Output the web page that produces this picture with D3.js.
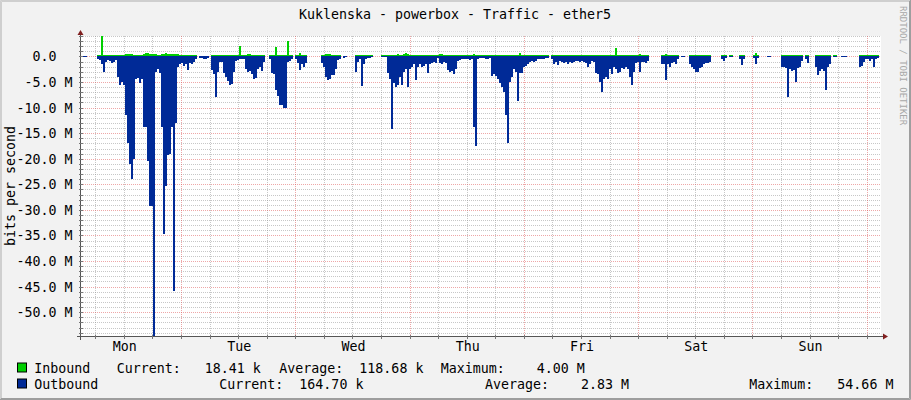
<!DOCTYPE html>
<html><head><meta charset="utf-8">
<script src="https://cdn.jsdelivr.net/npm/d3@7"></script>
<style>
body{margin:0;background:#F2F2F2}
svg{display:block}
text{font-family:"DejaVu Sans Mono",monospace;white-space:pre}
</style>
</head><body>
<svg id="chart" width="911" height="400"></svg>
<script>
// ---------- data ----------
const title = "Kuklenska - powerbox - Traffic - ether5";
const yAxisTitle = "bits per second";
const watermark = "RRDTOOL / TOBI OETIKER";
const dayLabels = ["Mon","Tue","Wed","Thu","Fri","Sat","Sun"];
const yTickValues = [0,-5,-10,-15,-20,-25,-30,-35,-40,-45,-50];           // Mbit/s
const yTickLabels = ["0.0  ","-5.0 M","-10.0 M","-15.0 M","-20.0 M","-25.0 M","-30.0 M","-35.0 M","-40.0 M","-45.0 M","-50.0 M"];
const yMin = -54.66, yMax = 4.00;                                          // Mbit/s
const startTime = Date.UTC(2024,0,1,3,0,0);                                // Monday 03:00
const spanHours = 168;
const sampleSeconds = 1512;

// inbound traffic, Mbit/s (one value per sample, null = no data)
const inbound = [
 null,0.05,0.05,null,null,null,null,null,0.3,0.3,4.0,0.3,0.2,0.2,0.2,0.2,0.3,0.3,0.3,0.3,
 0.3,0.3,0.4,0.4,0.4,0.4,0.3,0.3,0.3,0.3,0.3,0.5,0.6,0.6,0.5,0.5,0.5,0.4,0.3,0.3,
 0.5,0.5,0.6,0.5,0.5,0.4,0.4,0.4,0.4,0.3,0.3,0.3,0.3,0.3,0.3,0.2,0.2,0.2,null,0.05,
 0.05,0.05,0.05,0.05,null,0.3,0.3,0.3,0.2,0.2,0.2,0.3,0.3,0.3,0.3,0.3,0.2,0.2,0.2,2.1,
 0.3,0.2,0.3,0.4,0.4,0.3,0.3,0.3,0.3,0.3,0.3,0.2,null,null,0.2,0.3,0.3,1.9,0.3,0.3,
 0.3,0.3,0.3,3.1,0.3,0.2,null,0.2,0.3,0.6,0.3,0.3,0.2,null,null,null,null,null,null,null,
 0.3,0.3,0.4,0.4,0.4,0.3,0.3,0.3,0.3,0.2,null,0.05,0.05,null,null,null,null,0.2,0.2,0.2,
 0.2,0.2,0.2,0.2,0.2,0.2,null,null,null,null,0.3,0.3,0.2,0.3,0.3,0.3,0.3,0.3,0.4,0.3,
 0.3,0.4,0.6,0.5,0.3,0.3,0.3,0.3,0.3,0.3,0.3,0.3,0.3,0.3,0.3,0.3,0.3,0.3,0.2,0.5,
 0.5,0.3,0.3,0.3,0.3,0.3,0.3,0.3,0.2,0.2,0.2,0.2,0.2,0.2,0.2,0.2,0.5,0.3,0.2,0.2,
 0.2,0.2,0.2,0.2,0.2,0.3,0.3,0.3,0.3,0.3,0.3,0.3,0.3,0.3,0.3,0.3,0.3,0.3,0.3,0.7,
 0.3,0.3,0.3,0.3,0.3,0.3,0.3,0.3,0.2,0.2,0.2,0.2,0.2,0.2,null,0.3,0.3,0.3,0.3,0.3,
 0.3,0.2,0.2,0.2,0.2,0.2,0.2,0.2,0.2,0.3,0.3,0.3,0.3,0.3,0.3,0.3,0.3,0.3,0.3,0.3,
 0.3,0.3,0.3,0.3,0.3,0.3,0.3,1.7,0.3,0.3,0.3,0.3,0.3,0.3,0.3,0.3,0.3,0.3,0.3,0.5,
 0.3,0.3,0.3,0.3,null,null,null,null,null,null,0.3,0.3,0.5,0.3,0.3,0.3,0.3,0.3,0.3,null,
 0.05,0.05,null,null,0.3,0.3,0.3,0.3,0.3,0.3,0.3,0.3,0.3,0.2,0.2,null,null,null,null,null,
 0.2,0.2,0.2,null,0.2,0.2,null,null,null,0.2,0.2,0.2,null,null,null,null,0.3,0.6,0.3,null,
 null,null,null,0.05,0.05,null,null,null,null,null,0.3,0.3,0.3,0.3,0.3,0.3,0.3,0.3,0.3,0.3,
 0.3,null,0.2,0.2,null,null,null,0.3,0.3,0.3,0.3,0.3,0.3,0.3,0.3,null,0.2,0.2,null,null,
 0.05,0.05,0.05,null,null,null,null,null,null,0.3,0.3,0.3,0.3,0.3,0.3,0.3,0.3,0.3,0.2,null
];
// outbound traffic, Mbit/s (drawn below the zero line)
const outbound = [
 null,0.2,0.2,null,null,null,null,null,0.5,0.7,1.5,3.1,1.0,0.6,0.8,1.3,1.0,0.7,4.0,5.5,
 5.0,5.5,11.5,17,21,24,20,4.5,4.2,5.2,4.5,13.7,13.7,20.5,29.3,29.3,54.66,3.0,2.5,3.2,
 13.7,34.8,25.4,19.2,19,13.7,45.9,13,2.0,1.5,1.2,1.8,1.5,2.6,1.2,1.5,1.0,0.5,null,0.3,
 0.3,0.4,0.5,0.3,null,2.6,3.5,8.0,3.0,1.0,1.0,3.2,4.0,4.8,5.5,5.3,3.0,0.8,0.6,0.5,
 0.5,0.5,2.5,3.0,2.8,3.5,4.4,4.2,2.5,2.0,2.9,1.0,null,null,0.5,3.2,3.5,6.5,7.8,9.4,
 9.5,10,10,1.0,0.8,0.5,null,0.5,1.3,2.7,1.5,2.0,1.2,null,null,null,null,null,null,null,
 1.3,2.1,4.0,4.7,4.5,3.6,3.6,2.5,0.6,0.5,null,0.3,0.2,null,null,null,null,3.1,1.0,0.4,
 5.7,1.5,0.4,0.3,0.3,0.2,null,null,null,null,0.2,0.2,0.2,3.2,4.5,14.2,5.2,6.0,5.5,4.0,
 5.5,3.0,2.5,5.9,2.5,2.0,1.5,4.7,2.0,1.5,2.0,1.8,1.5,3.2,1.5,1.2,1.0,1.2,0.3,1.2,
 1.4,1.0,1.3,2.7,3.0,2.8,3.5,2.5,0.8,0.6,0.5,0.4,0.4,0.5,0.6,0.5,13.7,17.6,0.5,0.3,
 0.3,0.3,0.4,0.4,0.3,3.9,3.5,3.9,4.4,5.2,6.0,7.0,11.4,17.0,5.0,4.0,2.5,3.0,8.8,3.2,
 3.2,2.0,1.8,1.5,1.0,0.9,1.0,0.9,0.5,0.4,0.4,0.4,0.3,0.3,null,0.5,1.5,1.0,1.6,0.8,
 1.0,1.2,1.0,1.5,1.0,1.3,1.0,0.8,0.8,1.0,0.8,1.0,1.2,2.0,1.5,0.8,1.0,3.2,3.5,5.0,
 7.0,4.5,4.0,4.4,2.5,3.5,2.0,2.5,3.2,3.0,2.2,2.5,2.0,2.5,4.0,5.5,3.0,1.2,1.0,3.1,
 1.0,1.0,1.2,0.8,null,null,null,null,null,null,1.5,1.5,4.6,1.5,2.0,1.2,1.0,1.5,0.5,null,
 0.2,0.2,null,null,1.5,2.0,2.5,3.0,3.1,2.2,2.0,1.5,1.3,1.2,1.0,null,null,null,null,null,
 0.5,0.8,0.3,null,0.05,0.05,null,null,null,0.5,1.6,0.5,null,null,null,null,0.3,1.5,0.3,null,
 null,null,null,0.2,0.2,null,null,null,null,null,2.0,2.0,2.3,8.0,2.5,2.8,2.6,5.0,2.3,2.0,
 0.8,null,0.5,1.3,null,null,null,2.0,3.7,2.8,2.5,2.8,6.5,2.0,1.5,null,0.2,0.2,null,null,
 0.2,0.2,0.2,null,null,null,null,null,null,2.0,1.8,1.0,0.5,0.5,0.8,0.5,2.0,0.5,0.3,null
];
const legendNames = ["Inbound","Outbound"];
const legendColors = ["#00CF00","#002A97"];
const legendCurrent = ["18.41 k","164.70 k"];
const legendAverage = ["118.68 k","2.83 M"];
const legendMaximum = ["4.00 M","54.66 M"];

// ---------- layout ----------
const W = 911, H = 400;
const plot = {x:81, y:36, w:800, h:300};
const svg = d3.select("#chart");
const endTime = startTime + spanHours*3600e3;
const x = d3.scaleUtc().domain([startTime, endTime]).range([plot.x, plot.x+plot.w]);
const y = d3.scaleLinear().domain([yMin, yMax]).range([plot.y+plot.h, plot.y]);

// background + 3D border
svg.append("rect").attr("width",W).attr("height",H).attr("fill","#F2F2F2");
svg.append("path").attr("d",`M0.5,${H} V0.5 H${W}`).attr("stroke","#CFCFCF").attr("fill","none");
svg.append("path").attr("d",`M1.5,${H-1} V1.5 H${W-1}`).attr("stroke","#CFCFCF").attr("fill","none");
svg.append("path").attr("d",`M0,${H-0.5} H${W-0.5} V0`).attr("stroke","#9E9E9E").attr("fill","none");
svg.append("path").attr("d",`M1,${H-1.5} H${W-1.5} V1`).attr("stroke","#9E9E9E").attr("fill","none");

// canvas
svg.append("rect").attr("x",plot.x).attr("y",plot.y).attr("width",plot.w).attr("height",plot.h).attr("fill","#FFFFFF");

// grid
const grid = svg.append("g").attr("shape-rendering","crispEdges");
const minorV = d3.utcHour.every(6).range(new Date(startTime+1), new Date(endTime));
const majorV = d3.utcDay.range(new Date(startTime+1), new Date(endTime));
const minorH = d3.range(Math.ceil(yMin), Math.floor(yMax)+1, 1);
const majorH = minorH.filter(v => v % 5 === 0);
const gridGray = "rgba(143,143,143,0.5)", gridRed = "rgba(222,79,79,0.5)";
grid.selectAll(".mv").data(minorV.filter(t => t.getUTCHours()!==0)).join("line")
  .attr("x1",d=>Math.round(x(d))+0.5).attr("x2",d=>Math.round(x(d))+0.5)
  .attr("y1",plot.y).attr("y2",plot.y+plot.h)
  .attr("stroke",gridGray).attr("stroke-dasharray","1,1");
grid.selectAll(".mh").data(minorH.filter(v => v % 5 !== 0)).join("line")
  .attr("y1",d=>Math.round(y(d))+0.5).attr("y2",d=>Math.round(y(d))+0.5)
  .attr("x1",plot.x).attr("x2",plot.x+plot.w)
  .attr("stroke",gridGray).attr("stroke-dasharray","1,1");
grid.selectAll(".Mv").data(majorV).join("line")
  .attr("x1",d=>Math.round(x(d))+0.5).attr("x2",d=>Math.round(x(d))+0.5)
  .attr("y1",plot.y).attr("y2",plot.y+plot.h)
  .attr("stroke",gridRed).attr("stroke-dasharray","1,1");
grid.selectAll(".Mh").data(majorH).join("line")
  .attr("y1",d=>Math.round(y(d))+0.5).attr("y2",d=>Math.round(y(d))+0.5)
  .attr("x1",plot.x).attr("x2",plot.x+plot.w)
  .attr("stroke",gridRed).attr("stroke-dasharray","1,1");

// area columns: one column per sample, like rrdtool's pixel columns
function columns(values, sign){
  return values.map((v,i) => ({
    t0: startTime + i*sampleSeconds*1000,
    t1: startTime + (i+1)*sampleSeconds*1000,
    v: v == null ? null : sign*v
  })).filter(d => d.v != null);
}
const zeroY = y(0);
function drawArea(values, sign, color){
  svg.append("g").attr("shape-rendering","crispEdges").attr("fill",color)
    .selectAll("rect").data(columns(values, sign)).join("rect")
    .attr("x", d => Math.round(x(d.t0)))
    .attr("width", d => Math.round(x(d.t1)) - Math.round(x(d.t0)))
    .attr("y", d => Math.min(y(d.v), zeroY))
    .attr("height", d => Math.abs(y(d.v) - zeroY));
}
drawArea(inbound, 1, legendColors[0]);
drawArea(outbound, -1, legendColors[1]);

// axes
const ax = svg.append("g").attr("shape-rendering","crispEdges");
const y0px = plot.y+plot.h+0.5, x0px = plot.x-0.5;
ax.append("line").attr("x1",plot.x-4).attr("x2",plot.x+plot.w+4).attr("y1",y0px).attr("y2",y0px).attr("stroke","#555");
ax.append("line").attr("x1",x0px).attr("x2",x0px).attr("y1",plot.y+plot.h+4).attr("y2",plot.y-4).attr("stroke","#555");
ax.selectAll(".tx").data(minorV).join("line")
  .attr("x1",d=>Math.round(x(d))+0.5).attr("x2",d=>Math.round(x(d))+0.5)
  .attr("y1",y0px-2).attr("y2",y0px+2).attr("stroke","#777");
ax.selectAll(".ty").data(minorH).join("line")
  .attr("y1",d=>Math.round(y(d))+0.5).attr("y2",d=>Math.round(y(d))+0.5)
  .attr("x1",x0px-2).attr("x2",x0px+2).attr("stroke","#777");
svg.append("path").attr("fill","#801F1F")
  .attr("d",`M${plot.x+plot.w+2},${y0px-3} L${plot.x+plot.w+2},${y0px+3} L${plot.x+plot.w+7},${y0px} Z`);
svg.append("path").attr("fill","#801F1F")
  .attr("d",`M${x0px-3},${plot.y-1} L${x0px+3},${plot.y-1} L${x0px},${plot.y-6} Z`);

// y tick labels
svg.selectAll(".yl").data(yTickValues).join("text")
  .attr("xml:space","preserve")
  .attr("x",72.5).attr("y",d=>Math.round(y(d))+5)
  .attr("text-anchor","end").attr("font-size","13.3px").attr("fill","#000")
  .text((d,i)=>yTickLabels[i]);

// day labels at noon
svg.selectAll(".xl").data(dayLabels).join("text")
  .attr("x",(d,i)=>x(Date.UTC(2024,0,1+i,12))+1)
  .attr("y",351).attr("text-anchor","middle").attr("font-size","13.3px").attr("fill","#000")
  .text(d=>d);

// title
svg.append("text").attr("x",455).attr("y",19).attr("text-anchor","middle")
  .attr("font-size","13.3px").attr("fill","#000").text(title);
// y title
svg.append("text").attr("transform",`translate(15,${plot.y+plot.h/2}) rotate(-90)`)
  .attr("text-anchor","middle").attr("font-size","13.3px").attr("fill","#000").text(yAxisTitle);
// watermark
svg.append("text").attr("transform",`translate(900,6) rotate(90)`)
  .attr("font-size","9px").attr("fill","#A8A8A8").text(watermark);

// legend
const rows = [372.5, 388.5];
const colX = [[116.7,279.3,440.7],[219.3,485,749.3]];
const pad = (s,n) => s.padStart(n," ");
legendNames.forEach((name,i) => {
  const by = rows[i];
  svg.append("rect").attr("x",17.5).attr("y",by-9.5).attr("width",9).attr("height",9)
    .attr("fill",legendColors[i]).attr("stroke","#000").attr("stroke-width",1);
  const g = svg.append("g").attr("font-size","13.3px").attr("fill","#000");
  g.append("text").attr("x",34.3).attr("y",by).text(name);
  g.append("text").attr("xml:space","preserve").attr("x",colX[i][0]).attr("y",by).text("Current:"+pad(legendCurrent[i],10));
  g.append("text").attr("xml:space","preserve").attr("x",colX[i][1]).attr("y",by).text("Average:"+pad(legendAverage[i],10));
  g.append("text").attr("xml:space","preserve").attr("x",colX[i][2]).attr("y",by).text("Maximum:"+pad(legendMaximum[i],10));
});
</script>
</body></html>
